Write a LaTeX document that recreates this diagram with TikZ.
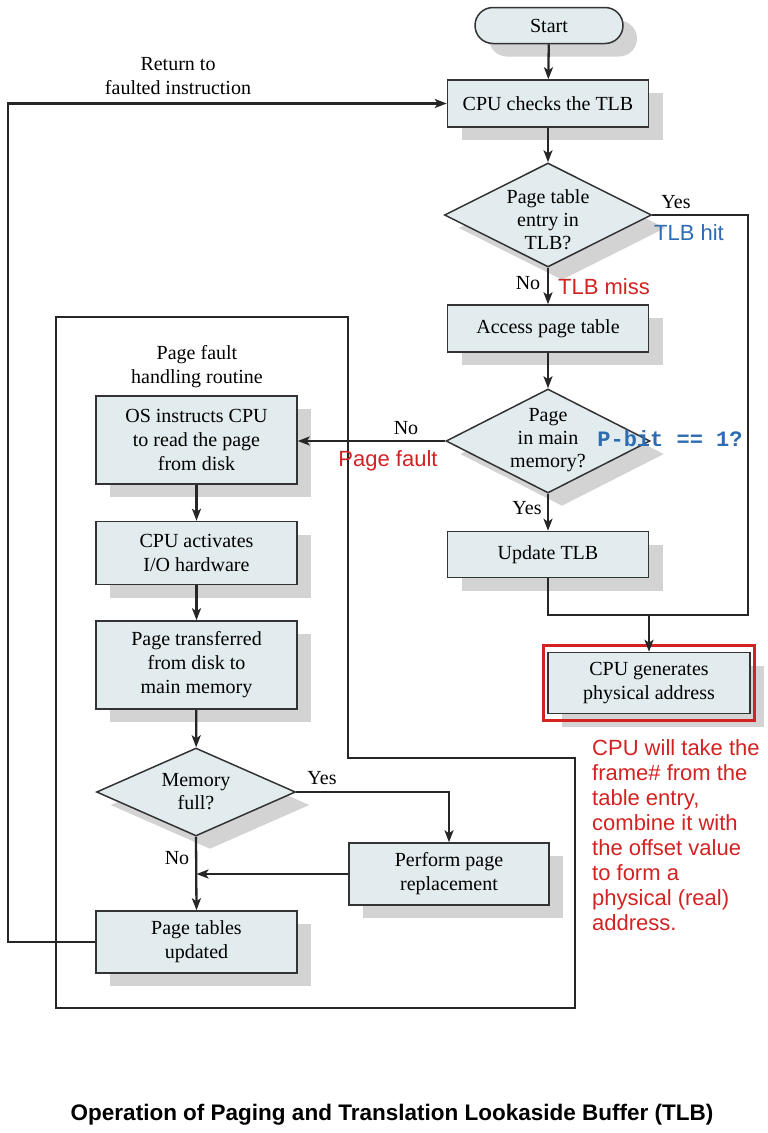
\documentclass[tikz,border=0pt]{standalone}
\usepackage{fontspec}
\setmainfont{Liberation Serif}
\setsansfont{Liberation Sans}
\setmonofont{Liberation Mono}
\usetikzlibrary{calc}
\usetikzlibrary{arrows.meta}
\usetikzlibrary{shapes.geometric}
\usetikzlibrary{shadows}
\usetikzlibrary{fit}

\definecolor{boxfill}{RGB}{226,236,238}
\definecolor{shadowgray}{RGB}{211,211,211}
\definecolor{notered}{RGB}{211,34,34}
\definecolor{noteblue}{RGB}{44,108,178}

\tikzset{
    boxshadow/.style={drop shadow={shadow xshift=14pt, shadow yshift=-13pt, fill=shadowgray, opacity=1}},
    flowbox/.style={rectangle, draw=black!80, line width=1.5pt, fill=boxfill, align=center, minimum width=201pt, inner sep=0pt, font=\fontsize{20}{24}\selectfont, boxshadow},
    startbox/.style={flowbox, rounded corners=18pt, minimum width=148pt, minimum height=36pt},
    decision/.style={diamond, draw=black!80, line width=1.5pt, fill=boxfill, inner sep=0pt, boxshadow},
    txt/.style={align=center, inner sep=0pt, font=\fontsize{20}{24}\selectfont},
    qtxt/.style={align=center, inner sep=0pt, font=\fontsize{20}{23}\selectfont},
    redtxt/.style={inner sep=0pt, text=notered, font=\sffamily\fontsize{22}{25}\selectfont},
    bluetxt/.style={inner sep=0pt, text=noteblue, font=\sffamily\fontsize{22}{25}\selectfont},
    arr/.style={line width=2.3pt, draw=black!85, -{Stealth[length=12pt, width=9pt, inset=3pt]}},
    wire/.style={line width=2.3pt, draw=black!85}
}

\begin{document}
\begin{tikzpicture}[x=1pt, y=-1pt]

    \useasboundingbox (0,0) rectangle (768,1133);

    \draw[line width=2.3pt, black!85] (56,317) -- (348,317) -- (348,758) -- (575,758) -- (575,1008) -- (56,1008) -- cycle;

    \node[startbox] (start) at (549,25.5) {Start};
    \node[flowbox, minimum height=47pt] (cpucheck) at (548,103.5) {CPU checks the TLB};
    \node[decision, minimum width=207pt, minimum height=104pt,
        label={[qtxt, yshift=-5pt]center:Page table\\entry in\\TLB?}] (tlbq) at (548,215) {};
    \node[flowbox, minimum height=47pt] (access) at (548,328.5) {Access page table};
    \node[decision, minimum width=204pt, minimum height=104pt,
        label={[qtxt, yshift=1pt]center:Page\\in main\\memory?}] (pagemem) at (548,441) {};
    \node[flowbox, minimum height=46pt] (updtlb) at (548,554.5) {Update TLB};
    \node[flowbox, minimum height=61pt, minimum width=202pt] (cpugen) at (649,683) {CPU generates\\physical address};
    \node[draw=notered, line width=3pt, inner xsep=4pt, inner ysep=6pt, fit=(cpugen)] (hilite) {};

    \node[txt] (pfhead) at (197,367) {Page fault\\handling routine};
    \node[flowbox, minimum height=88pt] (osread) at (196.5,440) {OS instructs CPU\\to read the page\\from disk};
    \node[flowbox, minimum height=63pt] (cpuact) at (196.5,553) {CPU activates\\I/O hardware};
    \node[flowbox, minimum height=88pt] (transfer) at (196.5,665) {Page transferred\\from disk to\\main memory};
    \node[decision, minimum width=199pt, minimum height=88pt,
        label={[qtxt]center:Memory\\full?}] (memfull) at (196,792) {};
    \node[flowbox, minimum height=62pt, minimum width=200pt] (replace) at (449,874) {Perform page\\replacement};
    \node[flowbox, minimum height=62pt] (pgupd) at (196.5,942) {Page tables\\updated};

    \coordinate (hitcorner) at (748,615);
    \coordinate (retx) at (8,500);

    \draw[arr] (start) -- (cpucheck);
    \draw[arr] (cpucheck) -- (tlbq);
    \draw[arr] (tlbq) -- (access);
    \draw[arr] (access) -- (pagemem);
    \draw[arr] (pagemem.west) -- (pagemem.west -| osread.east);
    \draw[arr] (pagemem) -- (updtlb);
    \draw[wire] (tlbq.east) -| (hitcorner) -| (updtlb.south);
    \draw[arr] (cpugen.north |- hitcorner) -- (cpugen.north);

    \draw[arr] (osread) -- (cpuact);
    \draw[arr] (cpuact) -- (transfer);
    \draw[arr] (transfer) -- (memfull);
    \draw[arr] (memfull.east) -| (replace.north);
    \draw[arr] (memfull.south) -- (pgupd.north);
    \draw[arr] (replace.west) -- (replace.west -| pgupd.north);
    \draw[arr] (pgupd.west) -| (retx) |- (cpucheck.west);

    \node[txt] (rettxt) at (178,76) {Return to\\faulted instruction};
    \node[txt] (yes1) at (676,202) {Yes};
    \node[bluetxt] (tlbhit) at (689,233) {TLB hit};
    \node[txt] (no1) at (528,283) {No};
    \node[redtxt] (tlbmiss) at (604,287) {TLB miss};
    \node[txt] (no2) at (406,428) {No};
    \node[redtxt] (pfault) at (388,461) {Page fault};
    \node[inner sep=0pt, text=noteblue, font=\ttfamily\bfseries\fontsize{22}{25}\selectfont] (pbit) at (670,439) {P-bit == 1?};
    \node[txt] (yes2) at (527,508) {Yes};
    \node[txt] (yes3) at (322,778) {Yes};
    \node[txt] (no3) at (177,858) {No};

    \node[redtxt, align=left, anchor=north west] (note) at (592,739) {CPU will take the\\frame\# from the\\table entry,\\combine it with\\the offset value\\to form a\\physical (real)\\address.};

    \node[inner sep=0pt, font=\sffamily\bfseries\fontsize{22.5}{27}\selectfont] (title) at (392,1115) {Operation of Paging and Translation Lookaside Buffer (TLB)};

\end{tikzpicture}
\end{document}
